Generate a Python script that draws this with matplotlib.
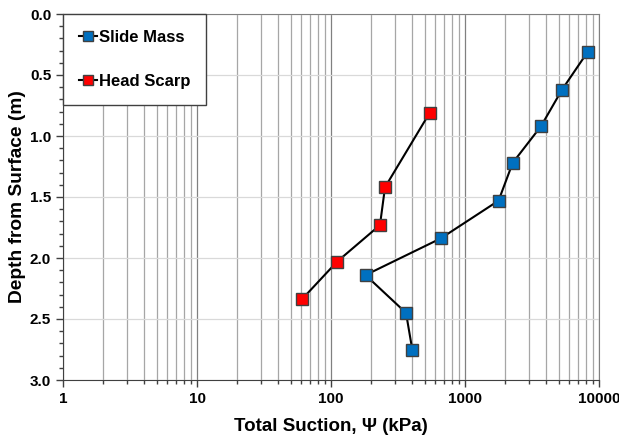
import matplotlib
matplotlib.use("Agg")
import matplotlib.pyplot as plt
from matplotlib.ticker import MultipleLocator, LogLocator, NullFormatter

plt.rcParams['font.family'] = ['Liberation Sans', 'DejaVu Sans']
plt.rcParams['font.weight'] = 'bold'

slide_suction = [8240, 5300, 3690, 2270, 1780, 658, 181, 363, 404]
slide_depth = [0.31, 0.62, 0.92, 1.22, 1.53, 1.84, 2.14, 2.45, 2.75]
scarp_suction = [545, 253, 232, 111, 60.5]
scarp_depth = [0.81, 1.42, 1.73, 2.03, 2.34]
x_ticks = [1, 10, 100, 1000, 10000]
x_labels = ['1', '10', '100', '1000', '10000']
y_ticks = [0.0, 0.5, 1.0, 1.5, 2.0, 2.5, 3.0]

fig = plt.figure(figsize=(6.19, 4.38), dpi=100)
ax = fig.add_axes([63/619, 1-380/438, (599-63)/619, (380-14)/438])

ax.set_xscale('log')
ax.set_xlim(1, 10000)
ax.set_ylim(3.0, 0.0)

ax.plot(slide_suction, slide_depth, color='black', lw=1.5, marker='s', ms=9,
        mfc='#0070C0', mec='#404040', mew=1, label='Slide Mass', zorder=3)
ax.plot(scarp_suction, scarp_depth, color='black', lw=1.5, marker='s', ms=9,
        mfc='#FF0000', mec='#404040', mew=1, label='Head Scarp', zorder=3)

ax.set_xticks(x_ticks)
ax.set_xticklabels(x_labels)
ax.xaxis.set_minor_locator(LogLocator(base=10, subs=range(2, 10), numticks=20))
ax.xaxis.set_minor_formatter(NullFormatter())
ax.set_yticks(y_ticks)
ax.set_yticklabels([f'{v:.1f}' for v in y_ticks])
ax.yaxis.set_minor_locator(MultipleLocator(0.1))

ax.grid(True, which='major', axis='x', color='#808080', lw=0.9)
ax.grid(True, which='minor', axis='x', color='#A6A6A6', lw=0.9)
ax.grid(True, which='major', axis='y', color='#D9D9D9', lw=0.9)
ax.set_axisbelow(True)

ax.tick_params(axis='both', which='major', direction='out', length=5, width=1,
               labelsize=11, color='#404040')
ax.tick_params(axis='both', which='minor', direction='out', length=3, width=1,
               color='#404040')
for lbl in ax.get_xticklabels() + ax.get_yticklabels():
    lbl.set_fontweight('bold')

for side in ['top', 'right']:
    ax.spines[side].set_color('#808080')
for side in ['left', 'bottom']:
    ax.spines[side].set_color('#404040')

ax.set_xlabel('Total Suction, Ψ (kPa)', fontsize=13.5, fontweight='bold', labelpad=9)
ax.set_ylabel('Depth from Surface (m)', fontsize=13.8, fontweight='bold', labelpad=3)

leg = ax.legend(loc='upper left', bbox_to_anchor=(0, 1), borderaxespad=0,
                fontsize=12, handlelength=1.1, handletextpad=0.1,
                labelspacing=1.75, borderpad=0.95, fancybox=False,
                edgecolor='#404040', framealpha=1, markerscale=0.85)
leg.get_frame().set_linewidth(1)
for t in leg.get_texts():
    t.set_fontweight('bold')

fig.savefig('out.png', dpi=100)
